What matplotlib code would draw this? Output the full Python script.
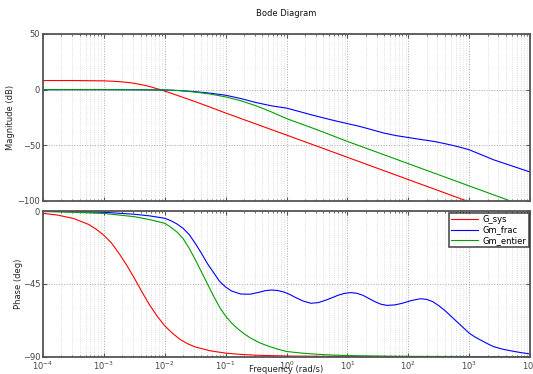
import numpy as np
import matplotlib
matplotlib.use('Agg')
import matplotlib.pyplot as plt
from matplotlib.ticker import LogLocator, NullFormatter

lw_red_mag = [-4, -3.5, -3, -2.875, -2.75, -2.625, -2.5, -2.375, -2.25, -2.125, -2, -1.875,
              -1.75, -1.625, -1.5, -1.25, -1, 0, 1, 2, 3]
red_mag = [8.2, 8.2, 7.9, 7.6, 7.2, 6.6, 5.7, 4.4, 2.8, 0.8, -1.3, -3.6,
           -6.0, -8.4, -10.8, -15.8, -21.0, -40.8, -60.8, -80.8, -100.8]

lw_blue_mag = [-4, -3, -2.5, -2, -1.75, -1.5, -1.25, -1, -0.75, -0.5, -0.25, 0, 0.2, 0.4,
               0.6, 0.8, 1.0, 1.2, 1.4, 1.6, 1.8, 2.0, 2.15, 2.3, 2.45, 2.6, 2.8, 3.0,
               3.2, 3.4, 3.7, 4.0]
blue_mag = [0, 0, -0.1, -0.3, -0.8, -1.8, -3.2, -5.0, -8.0, -11.6, -14.5, -16.6, -19.5, -22.5,
            -25.3, -28, -30.5, -33, -36, -39, -41.3, -43, -44.3, -45.5, -46.8, -48.5, -51, -54,
            -58.5, -63, -68.5, -74]

lw_green_mag = [-4, -3, -2.5, -2, -1.75, -1.5, -1.25, -1, -0.75, -0.5, -0.25, 0, 0.5, 1,
                2, 3, 4]
green_mag = [0, 0, -0.1, -0.3, -0.9, -2.2, -4.0, -6.5, -10, -14.5, -20, -26, -36, -46.5,
             -66.5, -86.5, -106.5]

lw_red_ph = [-4, -3.75, -3.5, -3.25, -3.125, -3, -2.875, -2.75, -2.625, -2.5, -2.375, -2.25,
             -2.125, -2, -1.875, -1.75, -1.625, -1.5, -1.25, -1, -0.75, -0.5, 0, 1, 4]
red_ph = [-1.4, -2.6, -4.6, -8.3, -11.3, -15.0, -19.8, -26.3, -33.5, -41.5, -50.0, -58.0,
          -65.0, -71.0, -75.5, -79.3, -82.0, -84.0, -86.4, -87.8, -88.6, -89.1, -89.6, -89.9, -90]

lw_blue_ph = [-4, -3.5, -3, -2.5, -2.25, -2, -1.9, -1.8, -1.7, -1.6, -1.5, -1.4, -1.3, -1.2,
              -1.1, -1.0, -0.9, -0.75, -0.6, -0.45, -0.35, -0.25, -0.15, -0.05, 0.05, 0.15,
              0.27, 0.4, 0.52, 0.65, 0.75, 0.85, 0.95, 1.05, 1.15, 1.25, 1.35, 1.45, 1.55,
              1.65, 1.78, 1.9, 2.05, 2.2, 2.3, 2.4, 2.5, 2.6, 2.7, 2.8, 2.9, 3.0, 3.1, 3.2,
              3.3, 3.4, 3.55, 3.7, 3.85, 4.0]
blue_ph = [-0.2, -0.4, -0.8, -2, -3.0, -4.5, -6.0, -8, -10.7, -14.5, -20, -26, -32.5, -38,
           -43.5, -47, -49.5, -51.3, -51.4, -50.2, -49.2, -48.8, -49.1, -50, -51.5, -53.5,
           -55.6, -57, -56.6, -55, -53.5, -52, -50.9, -50.4, -50.8, -52, -54, -56, -57.6,
           -58.3, -58.0, -57, -55.3, -54.2, -54.6, -56, -58.5, -61.5, -65, -68.5, -72, -75.5, -78, -80,
           -82, -83.8, -85.4, -86.5, -87.5, -88.3]

lw_green_ph = [-4, -3.5, -3, -2.5, -2.25, -2, -1.9, -1.8, -1.7, -1.6, -1.5, -1.4, -1.3, -1.2,
               -1.1, -1.0, -0.9, -0.8, -0.7, -0.6, -0.45, -0.3, -0.15, 0, 0.25, 0.5, 0.75, 1,
               1.5, 2, 4]
green_ph = [-0.3, -0.8, -1.5, -3.5, -5.3, -7.6, -10, -13, -17, -23, -30, -37.5, -45, -52.5,
            -59.5, -65, -69.3, -72.8, -75.8, -78.3, -81.3, -83.5, -85.3, -86.8, -87.8, -88.5,
            -89, -89.3, -89.6, -89.8, -90]

c_red = '#ff0000'
c_blue = '#0000ff'
c_green = '#00a000'
edge = '#555555'
txt = '#444444'

fig = plt.figure(figsize=(5.33, 3.74), dpi=100)
ax1 = fig.add_axes([0.0807, 0.4626, 0.914, 0.4465])
ax2 = fig.add_axes([0.0807, 0.0463, 0.914, 0.3895])

def f(l):
    return 10.0 ** np.array(l)

ax1.semilogx(f(lw_red_mag), red_mag, color=c_red, lw=0.8)
ax1.semilogx(f(lw_blue_mag), blue_mag, color=c_blue, lw=0.8)
ax1.semilogx(f(lw_green_mag), green_mag, color=c_green, lw=0.8)

ax2.semilogx(f(lw_red_ph), red_ph, color=c_red, lw=0.8, label='G_sys')
ax2.semilogx(f(lw_blue_ph), blue_ph, color=c_blue, lw=0.8, label='Gm_frac')
ax2.semilogx(f(lw_green_ph), green_ph, color=c_green, lw=0.8, label='Gm_entier')

ax1.set_ylim(-100, 50)
ax1.set_yticks([-100, -50, 0, 50])
ax2.set_ylim(-90, 0)
ax2.set_yticks([-90, -45, 0])

for ax in (ax1, ax2):
    ax.set_xlim(1e-4, 1e4)
    ax.xaxis.set_major_locator(LogLocator(base=10, numticks=20))
    ax.xaxis.set_minor_locator(LogLocator(base=10, subs=np.arange(2, 10), numticks=20))
    ax.xaxis.set_minor_formatter(NullFormatter())
    ax.grid(True, which='major', axis='both', color='#a8a8a8', linestyle=':', lw=0.7)
    ax.grid(True, which='minor', axis='x', color='#d2d2d2', linestyle=':', lw=0.6)
    ax.tick_params(which='both', direction='in', top=True, right=True, colors=edge,
                   labelcolor=txt, labelsize=6, pad=2)
    ax.tick_params(which='major', length=3)
    ax.tick_params(which='minor', length=1.5)
    for s in ax.spines.values():
        s.set_color(edge)
        s.set_linewidth(1.3)

ax1.set_xticklabels([])
ax1.set_ylabel('Magnitude (dB)', fontsize=6, color='#222222', labelpad=2)
ax2.set_ylabel('Phase (deg)', fontsize=6, color='#222222', labelpad=0)
ax2.set_xlabel('Frequency (rad/s)', fontsize=6, color='#222222')
ax2.xaxis.set_label_coords(0.5, -0.055)
fig.text(0.537, 0.965, 'Bode Diagram', ha='center', va='center', fontsize=6, color='#111111')

leg = ax2.legend(loc='upper right', fontsize=6, frameon=True, fancybox=False,
                 handlelength=3.2, borderpad=0.3, labelspacing=0.15, handletextpad=0.5,
                 borderaxespad=0.2)
leg.get_frame().set_edgecolor('#222222')
leg.get_frame().set_linewidth(1.2)

plt.savefig('out.png', dpi=100)
